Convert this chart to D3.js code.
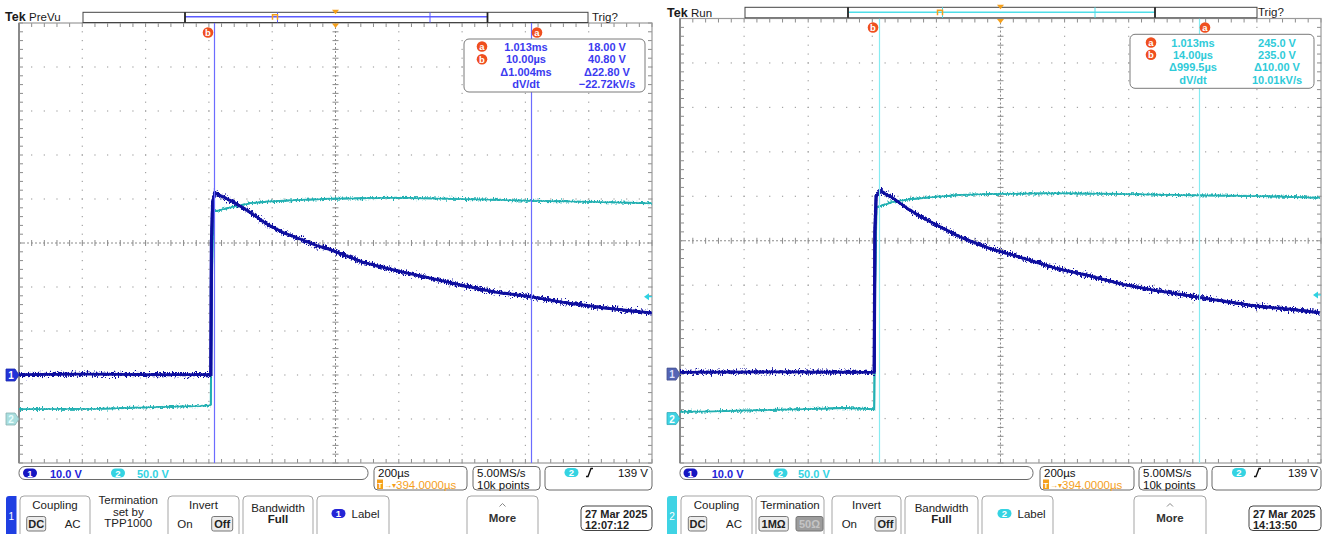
<!DOCTYPE html>
<html>
<head>
<meta charset="utf-8">
<script src="https://cdn.jsdelivr.net/npm/d3@7"></script>
<style>
  body { margin: 0; background: #fff; }
  svg  { display: block; font-family: "Liberation Sans", Arial, sans-serif; }
</style>
</head>
<body>
<svg id="chart" width="1327" height="534"></svg>
<script>
const timeDomain = [-606, 1394];   // µs across 10 div, 200 µs/div
const ch1Domain  = [-20, 80];      // V, 10.0 V/div
const ch2Domain  = [-50, 450];     // V, 50.0 V/div
const trigLevel  = 139;            // V on ch2

// left capture 12:07:12
const leftCh1Time = [-606, -400, -200, -2, 0, 2, 6, 13, 71, 124, 177, 229, 282, 335, 377, 482, 587, 693, 798, 903, 1009, 1114, 1219, 1324, 1393];
const leftCh1Volt = [0.1, 0.2, 0.1, 0.1, 0.1, 30, 39.5, 41.4, 39.3, 37.0, 34.3, 32.4, 30.9, 29.4, 28.5, 25.6, 23.7, 22.0, 20.3, 18.8, 17.8, 16.5, 15.5, 14.6, 14.1];
const leftCh2Time = [-606, -350, -192, -34, -2, 0, 3, 8, 29, 71, 124, 177, 229, 282, 377, 587, 798, 1009, 1219, 1393];
const leftCh2Volt = [11.4, 11.7, 13.3, 14.8, 15.6, 16, 150, 235.6, 237.5, 241.3, 245.1, 247, 248, 248.9, 250.3, 251.5, 250, 248, 246.6, 245.1];
const leftCursors  = [1013, 10];   // a, b (µs)
const leftReadTime = ["1.013ms", "10.00µs", "Δ1.004ms", "dV/dt"];
const leftReadVal  = ["18.00 V", "40.80 V", "Δ22.80 V", "−22.72kV/s"];

// right capture 14:13:50
const rightCh1Time = [-606, -300, -2, 0, 2, 6, 17, 59, 111, 163, 215, 267, 319, 360, 464, 568, 672, 776, 881, 985, 1088, 1193, 1296, 1390];
const rightCh1Volt = [0.4, 0.5, 0.4, 0.4, 32, 40, 41.3, 39.6, 36.9, 34.7, 32.8, 30.9, 29.4, 28.3, 26.1, 23.8, 22.1, 20.2, 18.8, 17.6, 16.4, 15.3, 14.6, 13.8];
const rightCh2Time = [-606, -357, -149, -87, -4, 0, 3, 7, 59, 111, 194, 267, 360, 568, 776, 985, 1193, 1390];
const rightCh2Volt = [7.4, 9.3, 11.3, 12.0, 10.5, 10.5, 150, 237.6, 243.9, 246.6, 249.5, 251.5, 252.6, 253.4, 252.6, 251.1, 250.3, 248.4];
const rightCursors  = [1013, 14];
const rightReadTime = ["1.013ms", "14.00µs", "Δ999.5µs", "dV/dt"];
const rightReadVal  = ["245.0 V", "235.0 V", "Δ10.00 V", "10.01kV/s"];

// ---- Colours ----
const ch1Color = "#10119f";
const ch2Color = "#22b0b2";
const orange   = "#f5a01c";
const tagRed   = "#ef4f1f";

const svg  = d3.select("#chart");
const defs = svg.append("defs");

// noisy trace look: vertical-only displacement
function jitter(id, scale, seed) {
  const f = defs.append("filter").attr("id", id)
    .attr("filterUnits", "userSpaceOnUse").attr("x", 0).attr("y", 0).attr("width", 1327).attr("height", 534);
  f.append("feTurbulence").attr("type", "fractalNoise")
    .attr("baseFrequency", "1.2 0.4").attr("numOctaves", 2).attr("seed", seed).attr("result", "n");
  f.append("feColorMatrix").attr("in", "n").attr("type", "matrix")
    .attr("values", "0 0 0 0 0.5  0 1 0 0 0  0 0 1 0 0  0 0 0 0 1").attr("result", "m");
  f.append("feDisplacementMap").attr("in", "SourceGraphic").attr("in2", "m")
    .attr("scale", scale).attr("xChannelSelector", "R").attr("yChannelSelector", "G");
}
jitter("jit1", 10, 4);
jitter("jit2", 6, 9);

function txt(g, x, y, s, o = {}) {
  return g.append("text").attr("x", x).attr("y", y)
    .attr("font-size", o.size || 11)
    .attr("font-weight", o.bold ? "bold" : "normal")
    .attr("fill", o.fill || "#222")
    .attr("text-anchor", o.anchor || "start")
    .text(s);
}
function rbox(g, x0, y0, x1, y1, o = {}) {
  return g.append("rect").attr("x", x0).attr("y", y0)
    .attr("width", x1 - x0).attr("height", y1 - y0)
    .attr("rx", o.rx == null ? 4 : o.rx)
    .attr("fill", o.fill || "#fff")
    .attr("stroke", o.stroke || "#8a8a8a")
    .attr("stroke-width", o.sw || 1);
}
function pill(g, cx, cy, label, fill) {
  g.append("rect").attr("x", cx - 7).attr("y", cy - 4.5).attr("width", 14).attr("height", 9)
    .attr("rx", 4.5).attr("fill", fill);
  txt(g, cx, cy + 3.5, label, { size: 9.5, bold: true, fill: "#fff", anchor: "middle" });
}
function tag(g, cx, cy, letter) {
  g.append("circle").attr("cx", cx).attr("cy", cy).attr("r", 5.3).attr("fill", tagRed);
  txt(g, cx, cy + 3.3, letter, { size: 9.5, bold: true, fill: "#fff", anchor: "middle" });
}

function drawPanel(p) {
  const g = svg.append("g");
  const x  = d3.scaleLinear().domain(timeDomain).range([p.gx0, p.gx1]);
  const y1 = d3.scaleLinear().domain(ch1Domain).range([p.gy1, p.gy0]);
  const y2 = d3.scaleLinear().domain(ch2Domain).range([p.gy1, p.gy0]);

  const divT = d3.range(11).map(i => timeDomain[0] + i * 200);
  const subT = d3.range(51).map(i => timeDomain[0] + i * 40);
  const divV = d3.range(11).map(i => ch1Domain[0] + i * 10);
  const subV = d3.range(51).map(i => ch1Domain[0] + i * 2);
  const xc = x(divT[5]), yc = y1(divV[5]);

  // 1) graticule dots
  const grid = g.append("g").attr("fill", "#a3a3a3");
  divT.slice(1, 10).forEach((t, i) => {
    if (i === 4) return;
    subV.forEach(v => grid.append("rect").attr("x", x(t) - 0.6).attr("y", y1(v) - 0.6).attr("width", 1.2).attr("height", 1.2));
  });
  divV.slice(1, 10).forEach((v, i) => {
    if (i === 4) return;
    subT.forEach(t => grid.append("rect").attr("x", x(t) - 0.6).attr("y", y1(v) - 0.6).attr("width", 1.2).attr("height", 1.2));
  });

  // centre cross
  const ax = g.append("g").attr("stroke", "#8c8c8c").attr("stroke-width", 1);
  ax.append("line").attr("x1", p.gx0).attr("x2", p.gx1).attr("y1", yc).attr("y2", yc).attr("stroke-dasharray", "2,2");
  ax.append("line").attr("x1", xc).attr("x2", xc).attr("y1", p.gy0).attr("y2", p.gy1).attr("stroke-dasharray", "2,2");
  subT.forEach(t => {
    ax.append("line").attr("x1", x(t)).attr("x2", x(t)).attr("y1", yc - 3).attr("y2", yc + 3);
    ax.append("line").attr("x1", x(t)).attr("x2", x(t)).attr("y1", p.gy0).attr("y2", p.gy0 + 4);
    ax.append("line").attr("x1", x(t)).attr("x2", x(t)).attr("y1", p.gy1 - 4).attr("y2", p.gy1);
  });
  subV.forEach(v => {
    ax.append("line").attr("y1", y1(v)).attr("y2", y1(v)).attr("x1", xc - 3).attr("x2", xc + 3);
    ax.append("line").attr("y1", y1(v)).attr("y2", y1(v)).attr("x1", p.gx0).attr("x2", p.gx0 + 4);
    ax.append("line").attr("y1", y1(v)).attr("y2", y1(v)).attr("x1", p.gx1 - 4).attr("x2", p.gx1);
  });
  g.append("rect").attr("x", p.gx0).attr("y", p.gy0).attr("width", p.gx1 - p.gx0).attr("height", p.gy1 - p.gy0)
    .attr("fill", "none").attr("stroke", "#9a9a9a").attr("stroke-width", 1.2);
  g.append("line").attr("x1", p.gx0).attr("x2", p.gx0).attr("y1", p.gy0).attr("y2", p.gy1)
    .attr("stroke", "#8a8a8a").attr("stroke-width", 2);

  // 2) traces: solid core + jittered fuzz
  const line2 = d3.line().x(d => x(d[0])).y(d => y2(d[1]));
  const line1 = d3.line().x(d => x(d[0])).y(d => y1(d[1]));
  const d2 = d3.zip(p.ch2t, p.ch2v), d1 = d3.zip(p.ch1t, p.ch1v);
  g.append("path").datum(d2).attr("d", line2)
    .attr("fill", "none").attr("stroke", ch2Color).attr("stroke-width", 1.6);
  g.append("path").datum(d2).attr("d", line2)
    .attr("fill", "none").attr("stroke", ch2Color).attr("stroke-width", 2).attr("filter", "url(#jit2)");
  g.append("path").datum(d1).attr("d", line1)
    .attr("fill", "none").attr("stroke", ch1Color).attr("stroke-width", 2.8);
  g.append("path").datum(d1).attr("d", line1)
    .attr("fill", "none").attr("stroke", ch1Color).attr("stroke-width", 3.2).attr("filter", "url(#jit1)");

  // 3) cursors
  p.cursors.forEach((t, i) => {
    const cx = Math.round(x(t)) + 0.5;
    g.append("line").attr("x1", cx).attr("x2", cx).attr("y1", p.gy0).attr("y2", p.gy1)
      .attr("stroke", p.cursorColor).attr("stroke-width", 1.2);
    tag(g, cx + (i === 0 ? 5.5 : -6.5), p.tagY, i === 0 ? "a" : "b");
  });

  // readout
  const [bx0, by0, bx1, by1] = p.readBox;
  rbox(g, bx0, by0, bx1, by1, { rx: 5, stroke: "#7a7a7a" });
  p.readTime.forEach((s, i) => {
    if (i < 2) tag(g, p.readIconX, p.readRows[i] - 4, i === 0 ? "a" : "b");
    txt(g, p.readTimeX, p.readRows[i], s, { fill: p.textColor, anchor: "middle", size: 11, bold: true });
    txt(g, p.readValX, p.readRows[i], p.readVal[i], { fill: p.textColor, anchor: "middle", size: 11, bold: true });
  });

  // ground markers + trigger level
  const gm = (yy, fill, tcol, lab) => {
    g.append("path").attr("d", `M${p.gx0 - 13},${yy - 6}H${p.gx0 - 4}L${p.gx0},${yy}L${p.gx0 - 4},${yy + 6}H${p.gx0 - 13}Z`)
      .attr("fill", fill).attr("stroke", d3.color(fill).darker(0.6)).attr("stroke-width", 0.8);
    txt(g, p.gx0 - 8, yy + 4, lab, { size: 10, bold: true, fill: tcol, anchor: "middle" });
  };
  gm(y1(0), p.gm1Fill, p.gm1Text, "1");
  gm(y2(0), p.gm2Fill, p.gm2Text, "2");
  const ty = y2(trigLevel);
  g.append("path").attr("d", `M${p.gx1 - 8},${ty}L${p.gx1 - 3},${ty - 3.5}V${ty + 3.5}Z M${p.gx1 - 4},${ty - 0.6}h4v1.2h-4Z`)
    .attr("fill", "#2fd2e2");

  // 4) header
  txt(g, p.tekX, p.tekY, "Tek", { size: 12.5, bold: true, fill: "#1a1a1a" });
  txt(g, p.tekX + 24, p.tekY, p.mode, { size: 11.5, fill: "#1a1a1a" });
  const [rb0, rby0, rb1, rby1] = p.bar;
  g.append("rect").attr("x", rb0).attr("y", rby0).attr("width", rb1 - rb0).attr("height", rby1 - rby0)
    .attr("fill", "#fff").attr("stroke", "#444").attr("stroke-width", 1);
  g.append("line").attr("x1", p.sec[0]).attr("x2", p.sec[1]).attr("y1", p.secY).attr("y2", p.secY)
    .attr("stroke", p.secColor).attr("stroke-width", 1.5);
  p.secMarks.forEach(m => g.append("line").attr("x1", m).attr("x2", m).attr("y1", rby0).attr("y2", rby1)
    .attr("stroke", p.secColor).attr("stroke-width", 1));
  p.sec.forEach(m => g.append("line").attr("x1", m).attr("x2", m).attr("y1", rby0).attr("y2", rby1)
    .attr("stroke", "#222").attr("stroke-width", 1.8));
  g.append("path").attr("d", `M${p.trigMarkX - 2.5},${p.secY + 3}v-5h5v5`).attr("fill", "none").attr("stroke", orange).attr("stroke-width", 1.5);
  g.append("path").attr("d", `M${xc - 3.5},${rby0 - 2.5}h7l-3.5,4.5Z`).attr("fill", orange);
  g.append("path").attr("d", `M${xc - 3.5},${p.gy0 + 0.5}h7l-3.5,4.5Z`).attr("fill", orange);
  txt(g, p.trigX, p.trigY, "Trig?", { size: 11.5, fill: "#1a1a1a" });

  // 5) status row
  const [cb0, cby0, cb1, cby1] = p.chanBar;
  rbox(g, cb0, cby0, cb1, cby1, { rx: 6, stroke: "#6a6a6a" });
  pill(g, p.chan1PillX, (cby0 + cby1) / 2, "1", "#1616c2");
  txt(g, p.chan1TextX, cby1 - 2, "10.0 V", { size: 11, bold: true, fill: "#2323d8" });
  pill(g, p.chan2PillX, (cby0 + cby1) / 2, "2", "#34d3e2");
  txt(g, p.chan2TextX, cby1 - 2, "50.0 V", { size: 11, bold: true, fill: "#34d3e2" });

  rbox(g, ...p.hBox, { rx: 4, stroke: "#6a6a6a" });
  txt(g, p.hBox[0] + 4, p.hBox[1] + 10, "200µs", { size: 11.5, fill: "#111" });
  g.append("rect").attr("x", p.hBox[0] + 3).attr("y", p.hBox[1] + 13).attr("width", 6).attr("height", 9.5).attr("fill", orange);
  txt(g, p.hBox[0] + 6, p.hBox[1] + 21.3, "T", { size: 8, bold: true, fill: "#fff", anchor: "middle" });
  txt(g, p.hBox[0] + 10, p.hBox[1] + 21.5, "→▾", { size: 8, fill: orange });
  txt(g, p.hBox[0] + 22, p.hBox[1] + 22, "394.0000µs", { size: 11.5, fill: orange });

  rbox(g, ...p.sBox, { rx: 4, stroke: "#6a6a6a" });
  txt(g, p.sBox[0] + 4, p.sBox[1] + 10, "5.00MS/s", { size: 11.5, fill: "#111" });
  txt(g, p.sBox[0] + 4, p.sBox[1] + 22, "10k points", { size: 11.5, fill: "#111" });

  rbox(g, ...p.tBox, { rx: 4, stroke: "#6a6a6a" });
  pill(g, p.tPillX, p.tBox[1] + 6, "2", "#34d3e2");
  const ex = p.tEdgeX, ey = p.tBox[1] + 6;
  g.append("path").attr("d", `M${ex - 4},${ey + 4}h2l3,-8h2`).attr("fill", "none").attr("stroke", "#111").attr("stroke-width", 1.4);
  txt(g, p.tValX, p.tBox[1] + 10, "139 V", { size: 11.5, fill: "#111", anchor: "end" });

  // 6) bottom menu
  g.append("path").attr("d", `M${p.tab[1]},496H${p.tab[0] + 3}q-3,0 -3,3V540H${p.tab[1]}Z`).attr("fill", p.tabColor);
  txt(g, (p.tab[0] + p.tab[1]) / 2, 520, p.tabLabel, { size: 10, fill: "#fff", anchor: "middle" });

  const optBox = (x0, x1, s, grey) => {
    rbox(g, x0, 516.5, x1, 531, { rx: 2, fill: grey ? "#9c9c9c" : "#ececec", stroke: "#777" });
    txt(g, (x0 + x1) / 2, 528, s, { size: 11, bold: true, fill: grey ? "#c4c4c4" : "#222", anchor: "middle" });
  };
  p.menu.forEach(m => {
    if (m.box) rbox(g, m.x0, 496, m.x1, 540, { rx: 4, stroke: "#a5a5a5" });
    const cx = (m.x0 + m.x1) / 2;
    if (m.kind === "opt") {
      txt(g, cx, 508.5, m.title, { size: 11.5, anchor: "middle" });
      m.opts.forEach(o => o.boxed ? optBox(o.x0, o.x1, o.s, o.grey)
                                  : txt(g, o.cx, 528, o.s, { size: 11.5, anchor: "middle" }));
    } else if (m.kind === "lines") {
      m.lines.forEach((s, i) => txt(g, cx, m.y0 + i * 11.7, s, { size: 11.5, anchor: "middle", bold: m.boldFrom != null && i >= m.boldFrom }));
    } else if (m.kind === "label") {
      pill(g, m.pillX, 513.5, m.pillLabel, m.pillColor);
      txt(g, m.pillX + 13, 517.5, "Label", { size: 11.5 });
    } else if (m.kind === "more") {
      g.append("path").attr("d", `M${cx - 3},506.5l3,-3l3,3`).attr("fill", "none").attr("stroke", "#888");
      txt(g, cx, 522, "More", { size: 11.5, bold: true, anchor: "middle", fill: "#333" });
    }
  });
  rbox(g, ...p.dateBox, { rx: 4, stroke: "#444" });
  txt(g, p.dateBox[0] + 4, p.dateBox[1] + 11.5, "27 Mar  2025", { size: 11, bold: true, fill: "#222" });
  txt(g, p.dateBox[0] + 4, p.dateBox[1] + 22.5, p.time, { size: 11, bold: true, fill: "#222" });
}

drawPanel({
  gx0: 19, gx1: 652, gy0: 23, gy1: 463,
  ch1t: leftCh1Time, ch1v: leftCh1Volt, ch2t: leftCh2Time, ch2v: leftCh2Volt,
  cursors: leftCursors, cursorColor: "#6c6cff", textColor: "#3b3bf0", tagY: 32.5,
  readTime: leftReadTime, readVal: leftReadVal,
  readBox: [464, 39, 645, 92], readRows: [50.5, 63.2, 75.9, 88.4], readIconX: 482, readTimeX: 526, readValX: 607,
  gm1Fill: "#2233d8", gm1Text: "#fff", gm2Fill: "#a9dede", gm2Text: "#e8ffff",
  mode: "PreVu", tekX: 5, tekY: 20.5,
  bar: [83, 12.3, 588, 22.5], sec: [185, 487.5], secY: 16.7, secMarks: [277.5, 430], secColor: "#5b5bff",
  trigMarkX: 275, trigX: 592, trigY: 20.5,
  chanBar: [19, 466.5, 368, 479.5], chan1PillX: 30, chan1TextX: 50, chan2PillX: 118, chan2TextX: 137,
  hBox: [374, 466.5, 467, 490], sBox: [473, 466.5, 540, 490], tBox: [545, 466.5, 652, 490],
  tPillX: 571.5, tEdgeX: 590, tValX: 648,
  tab: [6, 16.5], tabColor: "#1f3fe2", tabLabel: "1",
  menu: [
    { box: true, x0: 20, x1: 90, kind: "opt", title: "Coupling",
      opts: [{ boxed: true, x0: 26.7, x1: 45.7, s: "DC" }, { cx: 72.7, s: "AC" }] },
    { box: false, x0: 96, x1: 160.6, kind: "lines", y0: 504, lines: ["Termination", "set by", "TPP1000"] },
    { box: true, x0: 168, x1: 239, kind: "opt", title: "Invert",
      opts: [{ cx: 185, s: "On" }, { boxed: true, x0: 211.7, x1: 232.7, s: "Off" }] },
    { box: true, x0: 243, x1: 313, kind: "lines", y0: 511.5, lines: ["Bandwidth", "Full"], boldFrom: 1 },
    { box: true, x0: 317, x1: 389, kind: "label", pillX: 338.5, pillLabel: "1", pillColor: "#2424d6" },
    { box: true, x0: 467, x1: 538, kind: "more" }
  ],
  dateBox: [581, 506, 652, 530.5], time: "12:07:12"
});

drawPanel({
  gx0: 680, gx1: 1321, gy0: 18.5, gy1: 463,
  ch1t: rightCh1Time, ch1v: rightCh1Volt, ch2t: rightCh2Time, ch2v: rightCh2Volt,
  cursors: rightCursors, cursorColor: "#86ecf2", textColor: "#2fcbd9", tagY: 27.5,
  readTime: rightReadTime, readVal: rightReadVal,
  readBox: [1130, 34.3, 1314, 88.3], readRows: [46.5, 58.8, 71.3, 83.8], readIconX: 1151, readTimeX: 1193, readValX: 1277,
  gm1Fill: "#5565b4", gm1Text: "#dfe3ff", gm2Fill: "#3fd4e4", gm2Text: "#fff",
  mode: "Run", tekX: 667, tekY: 16.5,
  bar: [745, 7.3, 1257, 17.8], sec: [848, 1155], secY: 12.3, secMarks: [942.5, 1095], secColor: "#4fdde8",
  trigMarkX: 940, trigX: 1258, trigY: 16,
  chanBar: [680, 466.5, 1033, 479.5], chan1PillX: 690.5, chan1TextX: 711.7, chan2PillX: 780.5, chan2TextX: 798,
  hBox: [1040, 466.5, 1134, 490], sBox: [1139, 466.5, 1207, 490], tBox: [1212, 466.5, 1321, 490],
  tPillX: 1239, tEdgeX: 1258, tValX: 1318,
  tab: [667, 677], tabColor: "#3fd3e4", tabLabel: "2",
  menu: [
    { box: true, x0: 681, x1: 752, kind: "opt", title: "Coupling",
      opts: [{ boxed: true, x0: 688.3, x1: 706.7, s: "DC" }, { cx: 734, s: "AC" }] },
    { box: true, x0: 756, x1: 824, kind: "opt", title: "Termination",
      opts: [{ boxed: true, x0: 759, x1: 788.3, s: "1MΩ" }, { boxed: true, grey: true, x0: 796, x1: 823, s: "50Ω" }] },
    { box: true, x0: 832, x1: 901, kind: "opt", title: "Invert",
      opts: [{ cx: 849.3, s: "On" }, { boxed: true, x0: 875, x1: 896, s: "Off" }] },
    { box: true, x0: 905, x1: 978, kind: "lines", y0: 511.5, lines: ["Bandwidth", "Full"], boldFrom: 1 },
    { box: true, x0: 982, x1: 1053, kind: "label", pillX: 1004.5, pillLabel: "2", pillColor: "#34d3e2" },
    { box: true, x0: 1134, x1: 1206, kind: "more" }
  ],
  dateBox: [1249, 506, 1321, 530.5], time: "14:13:50"
});
</script>
</body>
</html>
